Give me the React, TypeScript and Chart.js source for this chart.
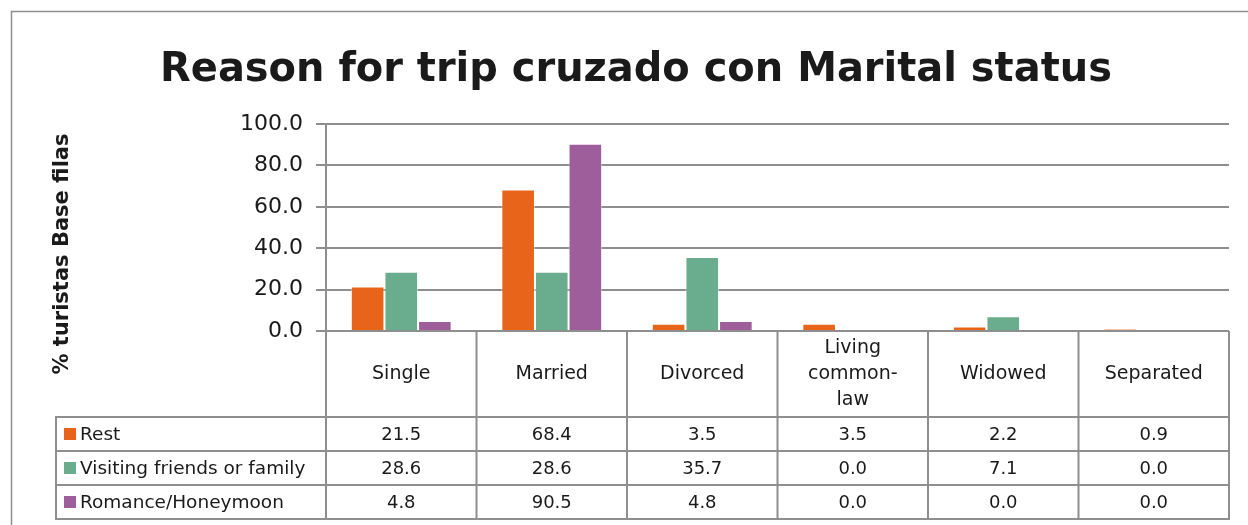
import React, { useEffect, useRef } from "react";
import { Chart, registerables } from "chart.js";

Chart.register(...registerables);

const chartTitle = "Reason for trip cruzado con Marital status";
const yAxisTitle = "% turistas Base filas";
const categories = ["Single", "Married", "Divorced", "Living common-law", "Widowed", "Separated"];
const categoryLines = [["Single"], ["Married"], ["Divorced"], ["Living", "common-", "law"], ["Widowed"], ["Separated"]];
const seriesNames = ["Rest", "Visiting friends or family", "Romance/Honeymoon"];
const restValues = [21.5, 68.4, 3.5, 3.5, 2.2, 0.9];
const visitingValues = [28.6, 28.6, 35.7, 0.0, 7.1, 0.0];
const romanceValues = [4.8, 90.5, 4.8, 0.0, 0.0, 0.0];
const yTickValues = [0, 20, 40, 60, 80, 100];

const seriesColors = ["#E8641A", "#6AAD8E", "#9E5E9B"];
const FONT = "'DejaVu Sans', sans-serif";
const GRID = "#8E8E8E";
const TEXT = "#1A1A1A";

function fitFont(ctx: CanvasRenderingContext2D, text: string, weight: string, target: number) {
  ctx.font = `${weight} 100px ${FONT}`;
  const w = ctx.measureText(text).width;
  return (100 * target) / w;
}

const tablePlugin = {
  id: "tablePlugin",
  afterDraw(chart: any) {
    const ctx: CanvasRenderingContext2D = chart.ctx;
    const area = chart.chartArea;
    const x = chart.scales.x;
    ctx.save();

    // outer frame
    ctx.strokeStyle = GRID;
    ctx.lineWidth = 1.5;
    ctx.strokeRect(11.5, 11.5, chart.width + 20, chart.height + 20);

    // title
    const tSize = fitFont(ctx, chartTitle, "bold", 952);
    ctx.font = `bold ${tSize}px ${FONT}`;
    ctx.fillStyle = TEXT;
    ctx.textAlign = "center";
    ctx.textBaseline = "alphabetic";
    ctx.fillText(chartTitle, 636, 81);

    // y title
    const ySize = Math.min(21, fitFont(ctx, yAxisTitle, "bold", 242));
    ctx.save();
    ctx.translate(63, 254);
    ctx.rotate(-Math.PI / 2);
    ctx.font = `bold ${ySize}px ${FONT}`;
    ctx.textAlign = "center";
    ctx.textBaseline = "middle";
    ctx.fillText(yAxisTitle, 0, 0);
    ctx.restore();

    // table geometry
    const n = categories.length;
    const colW = (area.right - area.left) / n;
    const top = area.bottom;
    const hdrBottom = top + 86;
    const rowH = 34;
    const bottom = hdrBottom + rowH * seriesNames.length;
    const legendLeft = 56;

    ctx.strokeStyle = GRID;
    ctx.lineWidth = 2;
    ctx.beginPath();
    for (let i = 0; i <= n; i++) {
      const bx = i === n ? area.right : x.getPixelForValue(i) - colW / 2;
      ctx.moveTo(bx, top);
      ctx.lineTo(bx, bottom);
    }
    ctx.moveTo(legendLeft, hdrBottom);
    ctx.lineTo(legendLeft, bottom);
    for (let r = 0; r <= seriesNames.length; r++) {
      const ry = hdrBottom + r * rowH;
      ctx.moveTo(legendLeft - 1, ry);
      ctx.lineTo(area.right + 1, ry);
    }
    ctx.stroke();

    // header labels
    ctx.fillStyle = TEXT;
    ctx.textAlign = "center";
    ctx.textBaseline = "middle";
    ctx.font = `19px ${FONT}`;
    const hdrMid = (top + hdrBottom) / 2;
    categoryLines.forEach((lines, i) => {
      const cx = x.getPixelForValue(i);
      const lh = 26;
      lines.forEach((ln, j) => {
        ctx.fillText(ln, cx, hdrMid + (j - (lines.length - 1) / 2) * lh);
      });
    });

    // rows
    const datasets = chart.data.datasets;
    datasets.forEach((ds: any, r: number) => {
      const cy = hdrBottom + r * rowH + rowH / 2;
      ctx.fillStyle = seriesColors[r];
      ctx.fillRect(64, cy - 6, 12, 12);
      ctx.fillStyle = TEXT;
      ctx.textAlign = "left";
      ctx.font = `18.5px ${FONT}`;
      ctx.fillText(seriesNames[r], 80, cy + 1);
      ctx.textAlign = "center";
      ctx.font = `18px ${FONT}`;
      ds.data.forEach((v: number, i: number) => {
        ctx.fillText(v.toFixed(1), x.getPixelForValue(i), cy + 1);
      });
    });

    ctx.restore();
  },
};

export default function App() {
  const ref = useRef<HTMLCanvasElement>(null);
  useEffect(() => {
    if (!ref.current) return;
    const chart = new Chart(ref.current, {
      type: "bar",
      data: {
        labels: categories,
        datasets: [
          { label: seriesNames[0], data: restValues, backgroundColor: seriesColors[0], borderColor: "rgba(255,255,255,0.5)", borderWidth: 1 },
          { label: seriesNames[1], data: visitingValues, backgroundColor: seriesColors[1], borderColor: "rgba(255,255,255,0.5)", borderWidth: 1 },
          { label: seriesNames[2], data: romanceValues, backgroundColor: seriesColors[2], borderColor: "rgba(255,255,255,0.5)", borderWidth: 1 },
        ],
      },
      options: {
        responsive: false,
        animation: false,
        layout: { padding: { top: 124, bottom: 194, right: 19, left: 0 } },
        datasets: { bar: { categoryPercentage: 0.67, barPercentage: 1.0 } },
        plugins: {
          legend: { display: false },
          title: { display: false },
          tooltip: { enabled: false },
        },
        scales: {
          x: { display: false },
          y: {
            min: 0,
            max: 100,
            afterFit: (s: any) => {
              s.width = 326;
            },
            afterBuildTicks: (s: any) => {
              s.ticks = yTickValues.map((v) => ({ value: v }));
            },
            ticks: {
              padding: 13,
              color: TEXT,
              font: { family: FONT, size: 22 },
              callback: (v: any) => Number(v).toFixed(1),
            },
            grid: { color: GRID, lineWidth: 2, tickLength: 10, drawTicks: true },
            border: { display: true, color: GRID, width: 2 },
          },
        },
      },
      plugins: [tablePlugin],
    });
    return () => chart.destroy();
  }, []);
  return (
    <div style={{ position: "absolute", left: 0, top: 0, width: 1248, height: 525, background: "#fff" }}>
      <canvas ref={ref} width={1248} height={525} style={{ display: "block" }} />
    </div>
  );
}
